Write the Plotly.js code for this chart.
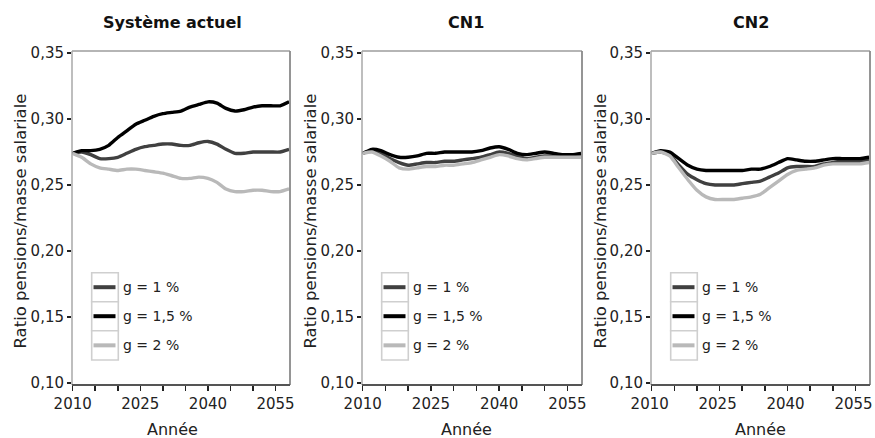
<!DOCTYPE html>
<html><head><meta charset="utf-8">
<script src="https://cdn.plot.ly/plotly-3.0.1.min.js"></script>
<style>html,body{margin:0;padding:0;background:#fff}</style>
</head><body>
<div id="chart" style="width:875px;height:438px"></div>
<script>
// ---------- DATA ----------
const years = [2010,2012,2014,2016,2018,2020,2022,2024,2026,2028,2030,2032,2034,2036,2038,2040,2042,2044,2046,2048,2050,2052,2054,2056,2058];
const panelTitles = ['Système actuel','CN1','CN2'];
const seriesNames = ['g = 1 %','g = 1,5 %','g = 2 %'];
const yTitle = 'Ratio pensions/masse salariale';
const xTitle = 'Année';

const actuel_g1  = [0.274,0.275,0.273,0.270,0.270,0.271,0.274,0.277,0.279,0.280,0.281,0.281,0.280,0.280,0.282,0.283,0.281,0.277,0.274,0.274,0.275,0.275,0.275,0.275,0.277];
const actuel_g15 = [0.274,0.276,0.276,0.277,0.280,0.286,0.291,0.296,0.299,0.302,0.304,0.305,0.306,0.309,0.311,0.313,0.312,0.308,0.306,0.307,0.309,0.310,0.310,0.310,0.313];
const actuel_g2  = [0.274,0.271,0.266,0.263,0.262,0.261,0.262,0.262,0.261,0.260,0.259,0.257,0.255,0.255,0.256,0.255,0.252,0.247,0.245,0.245,0.246,0.246,0.245,0.245,0.247];

const cn1_g1  = [0.274,0.276,0.274,0.270,0.267,0.265,0.266,0.267,0.267,0.268,0.268,0.269,0.270,0.271,0.273,0.275,0.274,0.272,0.270,0.271,0.272,0.272,0.272,0.272,0.272];
const cn1_g15 = [0.274,0.277,0.276,0.273,0.271,0.271,0.272,0.274,0.274,0.275,0.275,0.275,0.275,0.276,0.278,0.279,0.277,0.274,0.273,0.274,0.275,0.274,0.273,0.273,0.274];
const cn1_g2  = [0.274,0.275,0.272,0.268,0.263,0.262,0.263,0.264,0.264,0.265,0.265,0.266,0.267,0.269,0.271,0.273,0.272,0.270,0.269,0.270,0.271,0.271,0.271,0.271,0.271];

const cn2_g1  = [0.274,0.275,0.273,0.265,0.258,0.254,0.251,0.250,0.250,0.250,0.251,0.252,0.253,0.256,0.259,0.263,0.264,0.264,0.264,0.266,0.267,0.268,0.268,0.268,0.269];
const cn2_g15 = [0.274,0.276,0.275,0.270,0.265,0.262,0.261,0.261,0.261,0.261,0.261,0.262,0.262,0.264,0.267,0.270,0.269,0.268,0.268,0.269,0.270,0.270,0.270,0.270,0.271];
const cn2_g2  = [0.274,0.275,0.272,0.263,0.254,0.246,0.241,0.239,0.239,0.239,0.240,0.241,0.243,0.248,0.253,0.258,0.261,0.262,0.263,0.265,0.266,0.266,0.266,0.266,0.267];

const panelSeries = [
  [actuel_g1, actuel_g15, actuel_g2],
  [cn1_g1, cn1_g15, cn1_g2],
  [cn2_g1, cn2_g15, cn2_g2]
];

// ---------- STYLE / LAYOUT ----------
const W = 875, H = 438;
const FONT = 'DejaVu Sans, Liberation Sans, Arial, sans-serif';
const colors = ['#404040', '#000000', '#b9b9b9'];
const px = x => x / W;
const py = y => 1 - y / H;

const plotTop = 51, plotBottom = 385;
const panelX = [[72, 290], [362, 582], [651, 870]];
const titleX = [172.5, 466, 751];
const xTitleX = [172.5, 466.7, 760.5];
const yTitleX = [19.5, 309.5, 599.5];
const xLabelShift = [0, 0, -2];

const traces = [];
const layout = {
  width: W, height: H,
  margin: {l: 0, r: 0, t: 0, b: 0},
  paper_bgcolor: '#fff', plot_bgcolor: '#fff',
  separators: ', ',
  showlegend: false,
  font: {family: FONT, color: '#222'},
  shapes: [], annotations: []
};

panelSeries.forEach((series, i) => {
  const sfx = i === 0 ? '' : String(i + 1);
  series.forEach((vals, j) => {
    traces.push({
      x: years, y: vals, name: seriesNames[j],
      xaxis: 'x' + sfx, yaxis: 'y' + sfx,
      type: 'scatter', mode: 'lines',
      line: {color: colors[j], width: 3.4, shape: 'spline', smoothing: 0.5},
      hoverinfo: 'skip'
    });
  });
  const [L, R] = panelX[i];
  layout['xaxis' + sfx] = {
    domain: [px(L), px(R)], anchor: 'y' + sfx,
    range: [2009.85, 2058.2],
    tick0: 2010, dtick: 15,
    ticks: 'outside', ticklen: 5, tickwidth: 1.6, tickcolor: '#222',
    ticklabeloverflow: 'allow', ticklabelshift: xLabelShift[i],
    minor: {tick0: 2010, dtick: 5, ticks: 'outside', ticklen: 5, tickwidth: 1.6, tickcolor: '#222'},
    showline: false, showgrid: false, zeroline: false,
    tickfont: {family: FONT, size: 15, color: '#222'},
    fixedrange: true
  };
  layout['yaxis' + sfx] = {
    domain: [py(plotBottom), py(plotTop)], anchor: 'x' + sfx,
    range: [0.0985, 0.3515],
    tick0: 0.1, dtick: 0.05, tickformat: '.2f',
    ticks: 'outside', ticklen: 4, tickwidth: 1.6, tickcolor: '#222',
    ticklabeloverflow: 'allow',
    showline: false, showgrid: false, zeroline: false,
    tickfont: {family: FONT, size: 15, color: '#222'},
    fixedrange: true
  };
  // frame
  const fr = [
    [L, plotTop, R, plotTop, '#9c9c9c', 1.5],
    [L, plotTop, L, plotBottom, '#a8a8a8', 1.5],
    [R, plotTop, R, plotBottom, '#8a8a8a', 1.8],
    [L, plotBottom, R, plotBottom, '#555555', 2.2]
  ];
  fr.forEach(f => layout.shapes.push({type: 'line', xref: 'paper', yref: 'paper',
    x0: px(f[0]), y0: py(f[1]), x1: px(f[2]), y1: py(f[3]), line: {color: f[4], width: f[5]}, layer: 'above'}));
  // legend
  const bx0 = L + 19.7, bx1 = L + 46.3;
  const rows = [[272.7, 301.7], [301.7, 330.7], [330.7, 360]];
  rows.forEach((r, j) => {
    layout.shapes.push({type: 'rect', xref: 'paper', yref: 'paper',
      x0: px(bx0), x1: px(bx1), y0: py(r[1]), y1: py(r[0]),
      line: {color: '#cfcfcf', width: 1.6}, fillcolor: '#fff', layer: 'above'});
    const yc = (r[0] + r[1]) / 2;
    layout.shapes.push({type: 'line', xref: 'paper', yref: 'paper',
      x0: px(L + 21.5), x1: px(L + 43.5), y0: py(yc), y1: py(yc),
      line: {color: colors[j], width: 4}, layer: 'above'});
    layout.annotations.push({xref: 'paper', yref: 'paper', x: px(L + 48.5), y: py(yc),
      xanchor: 'left', yanchor: 'middle', showarrow: false, text: seriesNames[j],
      font: {family: FONT, size: 14, color: '#222'}});
  });
  // panel title
  layout.annotations.push({xref: 'paper', yref: 'paper', x: px(titleX[i]), y: py(22.5),
    xanchor: 'center', yanchor: 'middle', showarrow: false, text: '<b>' + panelTitles[i] + '</b>',
    font: {family: FONT, size: 16, color: '#111'}});
  // x title
  layout.annotations.push({xref: 'paper', yref: 'paper', x: px(xTitleX[i]), y: py(429),
    xanchor: 'center', yanchor: 'middle', showarrow: false, text: xTitle,
    font: {family: FONT, size: 16, color: '#222'}});
  // y title
  layout.annotations.push({xref: 'paper', yref: 'paper', x: px(yTitleX[i]), y: py(221),
    xanchor: 'center', yanchor: 'middle', showarrow: false, text: yTitle, textangle: -90,
    font: {family: FONT, size: 16.5, color: '#222'}});
});

Plotly.newPlot('chart', traces, layout, {displayModeBar: false, staticPlot: true});
</script>
</body></html>
